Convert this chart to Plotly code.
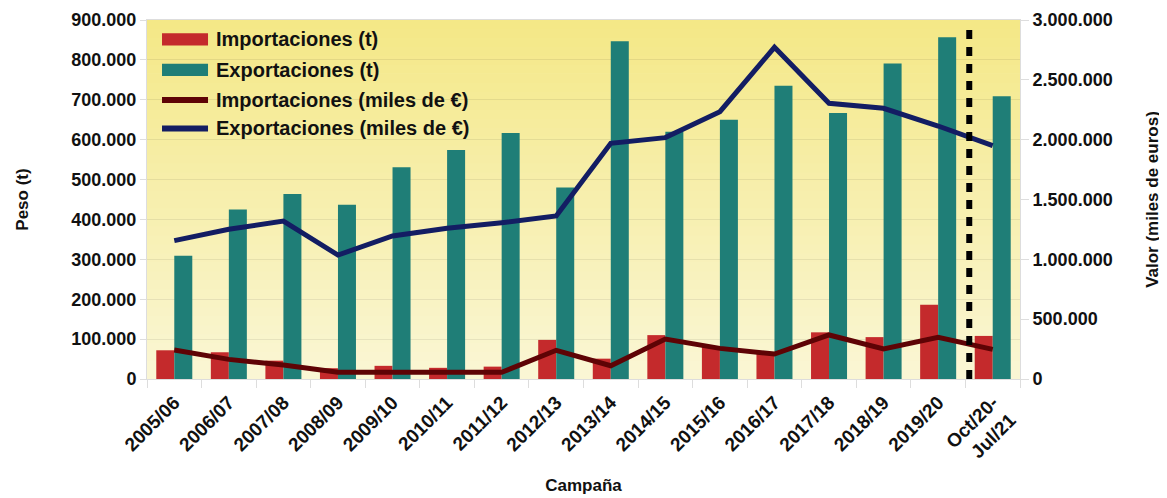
import plotly.graph_objects as go

campanas = ["2005/06", "2006/07", "2007/08", "2008/09", "2009/10", "2010/11",
            "2011/12", "2012/13", "2013/14", "2014/15", "2015/16", "2016/17",
            "2017/18", "2018/19", "2019/20", "Oct/20-<br>Jul/21"]

imp_t = [72000, 67000, 46000, 27000, 33000, 28000, 31000, 98000,
         51000, 110000, 81000, 67000, 117000, 105000, 186000, 108000]
exp_t = [309000, 425000, 464000, 437000, 531000, 574000, 617000, 480000,
         847000, 620000, 650000, 735000, 667000, 791000, 857000, 709000]
imp_eur = [242000, 164000, 117000, 56000, 56000, 56000, 56000, 240000,
           111000, 334000, 256000, 209000, 368000, 251000, 348000, 248000]
exp_eur = [1156000, 1251000, 1320000, 1036000, 1195000, 1259000, 1306000, 1362000,
           1970000, 2017000, 2234000, 2772000, 2304000, 2262000, 2114000, 1950000]

font = "Liberation Sans, Arial, sans-serif"
c_imp_t, c_exp_t = "#c42a2c", "#1f7e77"
c_imp_eur, c_exp_eur = "#5e0305", "#131d63"

fig = go.Figure()
fig.add_trace(go.Bar(x=campanas, y=imp_t, name="Importaciones (t)",
                     marker=dict(color=c_imp_t, line=dict(width=0))))
fig.add_trace(go.Bar(x=campanas, y=exp_t, name="Exportaciones (t)",
                     marker=dict(color=c_exp_t, line=dict(width=0))))
fig.add_trace(go.Scatter(x=campanas, y=imp_eur, name="Importaciones (miles de €)",
                         mode="lines", yaxis="y2", line=dict(color=c_imp_eur, width=5)))
fig.add_trace(go.Scatter(x=campanas, y=exp_eur, name="Exportaciones (miles de €)",
                         mode="lines", yaxis="y2", line=dict(color=c_exp_eur, width=5)))

# yellow gradient background of the plot area
shapes = []
n = 40
top = (244, 232, 135)
bot = (250, 246, 212)
for i in range(n):
    f = i / (n - 1)
    c = tuple(round(bot[k] + (top[k] - bot[k]) * f) for k in range(3))
    shapes.append(dict(type="rect", xref="paper", yref="paper",
                       x0=0, x1=1, y0=i / n, y1=(i + 1) / n + 0.002,
                       fillcolor="rgb(%d,%d,%d)" % c, line=dict(width=0),
                       layer="below"))
# dashed separator before the current campaign
shapes.append(dict(type="line", xref="x", yref="paper", x0=14.57, x1=14.57,
                   y0=0, y1=0.985, line=dict(color="black", width=6, dash="9px,8px")))

# legend drawn by hand (wide swatches like the original)
leg_names = ["Importaciones (t)", "Exportaciones (t)",
             "Importaciones (miles de €)", "Exportaciones (miles de €)"]
leg_colors = [c_imp_t, c_exp_t, c_imp_eur, c_exp_eur]
leg_y = [0.946, 0.861, 0.777, 0.698]
annotations = []
for i, (nm, col, yy) in enumerate(zip(leg_names, leg_colors, leg_y)):
    if i < 2:
        shapes.append(dict(type="rect", xref="paper", yref="paper",
                           x0=0.0172, x1=0.0699, y0=yy - 0.017, y1=yy + 0.017,
                           fillcolor=col, line=dict(width=0)))
    else:
        shapes.append(dict(type="line", xref="paper", yref="paper",
                           x0=0.0172, x1=0.0699, y0=yy, y1=yy,
                           line=dict(color=col, width=6)))
    annotations.append(dict(xref="paper", yref="paper", x=0.0767, y=yy,
                            xanchor="left", yanchor="middle", showarrow=False,
                            text=nm, font=dict(size=20, weight="bold", color="#111")))

# page body adds an 8px offset, margins compensate for it
fig.update_layout(
    width=1167, height=498,
    margin=dict(l=139, r=155, t=12, b=127),
    paper_bgcolor="white",
    plot_bgcolor="#faf6d4",
    separators=",.",
    barmode="group", bargap=0.34, bargroupgap=0,
    font=dict(family=font, size=17, color="#111"),
    shapes=shapes,
    annotations=annotations,
    showlegend=False,
    xaxis=dict(tickangle=-45, tickfont=dict(size=19, weight="bold"), automargin=False,
               ticks="outside", tickson="boundaries", ticklen=8, tickcolor="#ddd",
               ticklabelstandoff=4,
               showline=True, linecolor="#ddd", mirror=True,
               title=dict(text="Campaña", font=dict(size=17, weight="bold"), standoff=10)),
    yaxis=dict(range=[0, 900000], dtick=100000, tickformat=",.0f", automargin=False,
               tickfont=dict(size=18, weight="bold"),
               ticks="outside", ticklen=6, tickcolor="#ddd",
               showgrid=True, gridcolor="rgba(0,0,0,0.07)",
               showline=True, linecolor="#ddd", zeroline=False,
               title=dict(text="Peso (t)", font=dict(size=17, weight="bold"), standoff=38)),
    yaxis2=dict(range=[0, 3000000], dtick=500000, tickformat=",.0f", automargin=False,
                overlaying="y", side="right",
                tickfont=dict(size=18, weight="bold"),
                ticks="outside", ticklen=8, tickcolor="#ddd",
                showgrid=False, showline=True, linecolor="#ddd", zeroline=False,
                title=dict(text="Valor (miles de euros)", font=dict(size=17, weight="bold"),
                           standoff=34)),
)

fig.write_html("out.html")
